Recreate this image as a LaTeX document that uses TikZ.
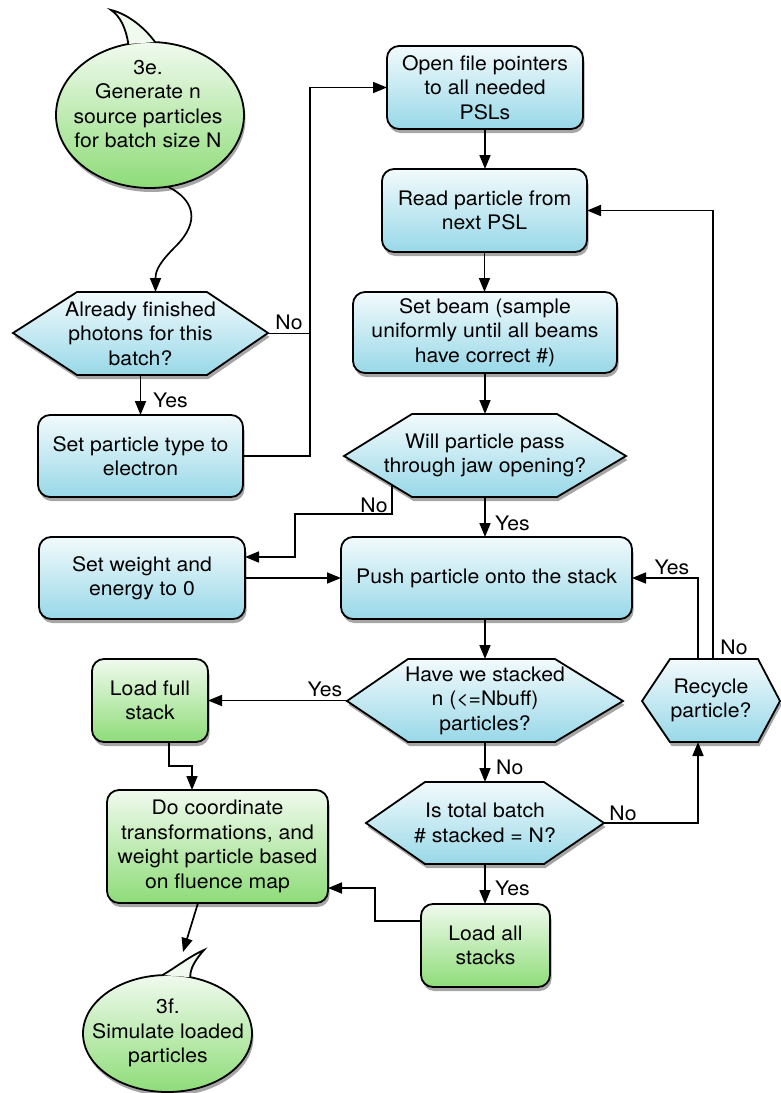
\documentclass[tikz,border=0pt]{standalone}
\usepackage{fontspec}
\setmainfont[FakeStretch=1.06]{TeX Gyre Heros}
\usetikzlibrary{shapes.geometric,shadows,arrows.meta}
\definecolor{blueT}{HTML}{F2FAFC}
\definecolor{blueB}{HTML}{98D8E8}
\definecolor{greenT}{HTML}{F0FAEE}
\definecolor{greenB}{HTML}{8EDC78}
\tikzset{
 txt/.style={align=center,font=\fontsize{20}{24.5}\selectfont,inner sep=0pt,outer sep=0pt},
 lbl/.style={font=\fontsize{20}{24}\selectfont,inner sep=0pt},
 shad/.style={drop shadow={shadow xshift=1.5pt,shadow yshift=-4pt,opacity=.35,fill=black}},
 bluebox/.style={txt,draw,line width=1.8pt,rounded corners=12pt,top color=blueT,bottom color=blueB,shad},
 greenbox/.style={txt,draw,line width=1.8pt,rounded corners=12pt,top color=greenT,bottom color=greenB,shad},
 hexfill/.style={draw,line width=1.8pt,line join=miter,top color=blueT,bottom color=blueB,shad},
 bubble/.style={ellipse,draw,line width=1.8pt,top color=greenT,bottom color=greenB,shad,inner sep=0pt,outer sep=0pt},
 tail/.style={fill=greenT,draw,line width=1.8pt},
 arr/.style={line width=1.7pt,-{Triangle[length=14pt,width=11pt]}},
 ln/.style={line width=1.7pt},
}
\begin{document}
\begin{tikzpicture}[x=1pt,y=-1pt]
\useasboundingbox (0,0) rectangle (781,1093);

% boxes
\node[bluebox,minimum width=196pt,minimum height=83pt] (bOpen) at (485,87.5) {Open file pointers\\to all needed\\PSLs};
\node[bluebox,minimum width=205pt,minimum height=83pt] (bRead) at (484.5,210.5) {Read particle from\\next PSL};
\node[bluebox,minimum width=264pt,minimum height=81pt] (bBeam) at (485,332.5) {Set beam (sample\\uniformly until all beams\\have correct \#)};
\node[bluebox,minimum width=205pt,minimum height=82pt] (bType) at (140.5,456) {Set particle type to\\electron};
\node[bluebox,minimum width=206pt,minimum height=82pt] (bWeight) at (142,578) {Set weight and\\energy to 0};
\node[bluebox,minimum width=291pt,minimum height=82pt] (bPush) at (486.5,578) {Push particle onto the stack};
\node[greenbox,minimum width=116pt,minimum height=83pt] (bFull) at (150,700.5) {Load full\\stack};
\node[greenbox,minimum width=221pt,minimum height=113pt] (bDo) at (217.5,846.5) {Do coordinate\\transformations, and\\weight particle based\\on fluence map};
\node[greenbox,minimum width=129pt,minimum height=83pt] (bAll) at (485.5,945.5) {Load all\\stacks};

% hexagons
\path[hexfill] (13,333) -- (77,292) -- (207,292) -- (268,333) -- (207,375) -- (77,375) -- cycle;
\node[txt,minimum width=255pt,minimum height=83pt] (hA) at (140.5,333.5) {Already finished\\photons for this\\batch?};
\path[hexfill] (344,456) -- (412,414) -- (557,414) -- (626,456) -- (557,497) -- (412,497) -- cycle;
\node[txt,minimum width=282pt,minimum height=83pt] (hW) at (485,455.5) {Will particle pass\\through jaw opening?};
\path[hexfill] (347,701) -- (408,659) -- (555,659) -- (623,701) -- (555,742) -- (408,742) -- cycle;
\node[txt,minimum width=276pt,minimum height=83pt] (hH) at (485,700.5) {Have we stacked\\n (<=Nbuff)\\particles?};
\path[hexfill] (366,823) -- (425,782) -- (544,782) -- (604,823) -- (544,864) -- (425,864) -- cycle;
\node[txt,minimum width=238pt,minimum height=82pt] (hI) at (485,823) {Is total batch\\\# stacked = N?};
\path[hexfill] (642,701) -- (670,659) -- (758,659) -- (780,701) -- (758,742) -- (670,742) -- cycle;
\node[txt,minimum width=138pt,minimum height=83pt] (hR) at (711,700.5) {Recycle\\particle?};

% callouts
\node[bubble,minimum width=188pt,minimum height=146pt] (e3e) at (150,115) {};
\filldraw[tail] (e3e.107) .. controls (126,28) and (120,16) .. (111,10) .. controls (128,14) and (145,28) .. (e3e.86);
\node[txt] (t3e) at (148,104) {3e.\\Generate n\\source particles\\for batch size N};
\node[bubble,minimum width=169pt,minimum height=117pt] (e3f) at (167.5,1033.5) {};
\filldraw[tail] (e3f.95) .. controls (178,966) and (190,956) .. (204,950) .. controls (196,959) and (190,968) .. (e3f.68);
\node[txt] (t3f) at (168,1033) {3f.\\Simulate loaded\\particles};

% connectors
\draw[arr] (e3e.-76) .. controls (195,200) and (200,222) .. (176,246) .. controls (160,262) and (155.5,270) .. ([xshift=15pt]hA.north);
\draw[arr] (hA.south) -- (bType.north);
\node[lbl,anchor=west] (yA) at (153,400) {Yes};
\coordinate (jA) at (310,333.5);
\draw[arr] (hA.east) -- (jA) |- (bOpen.west);
\draw[ln] (bType.east) -| (jA);
\node[lbl] (nA) at (289,322) {No};

\draw[arr] (bOpen.south) -- (bOpen.south |- bRead.north);
\draw[arr] (bRead.south) -- (bRead.south |- bBeam.north);
\draw[arr] (bBeam.south) -- (hW.north);
\draw[arr] (hW.south) -- (hW.south |- bPush.north);
\node[lbl,anchor=west] (yW) at (495,523) {Yes};
\coordinate (wNo) at (392,485);
\draw[arr] (wNo) |- (295,514) |- ([yshift=21pt]bWeight.east);
\node[lbl] (nW) at (374,505) {No};
\draw[arr] (bWeight.east) -- (bPush.west);
\draw[arr] (bPush.south -| hH.north) -- (hH.north);
\draw[arr] (hH.west) -- (bFull.east);
\node[lbl] (yH) at (325,689) {Yes};
\draw[arr] ([xshift=19pt]bFull.south) -- ++(0,24) -| ([xshift=-25.5pt]bDo.north);
\draw[arr] (hH.south) -- (hI.north);
\node[lbl,anchor=west] (nH) at (496,767) {No};
\draw[arr] (hI.east) -| ([xshift=-13pt]hR.south);
\node[lbl] (nI) at (623,813) {No};
\draw[arr] ([xshift=-13pt]hR.north) |- (bPush.east);
\node[lbl] (yR) at (672,567) {Yes};
\draw[arr] ([xshift=2pt]hR.north) |- (bRead.east);
\node[lbl] (nR) at (734,647) {No};
\draw[arr] (hI.south) -- (hI.south |- bAll.north);
\node[lbl,anchor=west] (yI) at (495,888) {Yes};
\draw[arr] ([yshift=24.5pt]bAll.west) -| (375,888) -- ([yshift=-41.5pt]bDo.east);
\coordinate (tip3f) at (183,952);
\draw[arr] ([xshift=-19.5pt]bDo.south) -- (tip3f);
\end{tikzpicture}
\end{document}
